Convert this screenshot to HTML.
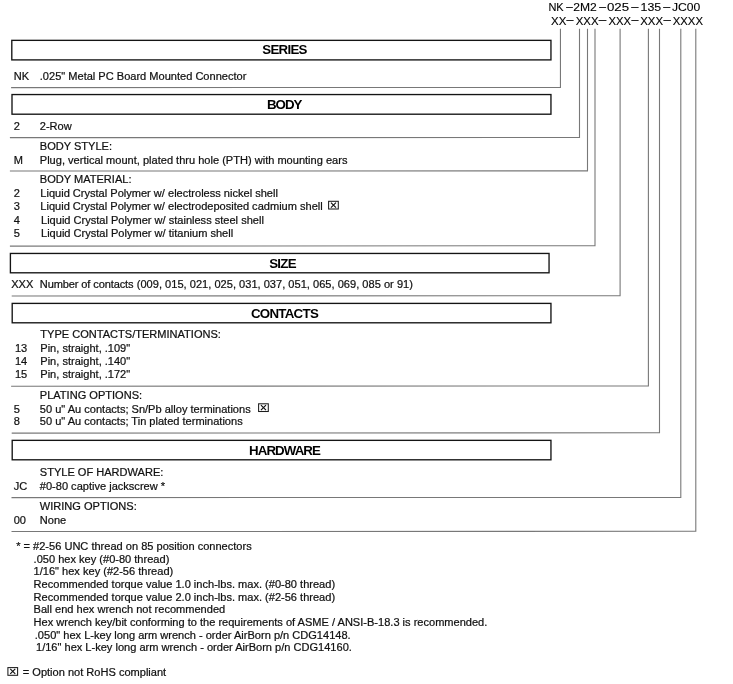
<!DOCTYPE html>
<html lang="en"><head><meta charset="utf-8"><title>NK Part Number Guide</title>
<style>
html,body{margin:0;padding:0;background:#fff}
body{width:733px;height:684px;overflow:hidden}
svg{display:block;will-change:transform}
text{font-family:"Liberation Sans",sans-serif;font-size:11.06px;fill:#111;stroke:#111;stroke-width:.22px}
.h{font-weight:bold;font-size:13.3px;text-anchor:middle;letter-spacing:-0.72px;fill:#000;stroke:none}
.code{fill:#000;stroke:#000;stroke-width:.12px}
.sep{fill:none;stroke:#787878;stroke-width:1.1;stroke-linejoin:miter}
.box{fill:#fff;stroke:#141414;stroke-width:1.35}
.ic rect{fill:#fff;stroke:#1c1c1c;stroke-width:1.05}
.ic path{fill:none;stroke:#111;stroke-width:1.15}
</style></head><body>
<svg width="733" height="684" viewBox="0 0 733 684">
<rect width="733" height="684" fill="#fff"/>
<path d="M11.1 87.6L560.45 87.5V28.8" class="sep"/>
<path d="M9.9 137.65L579.5 137.5V28.8" class="sep"/>
<path d="M9.9 171.0L587.5 170.9V28.8" class="sep"/>
<path d="M9.9 246.15L595.0 245.65V28.8" class="sep"/>
<path d="M11.7 296.05L620.1 295.7V28.8" class="sep"/>
<path d="M11.1 386.3L648.4 385.9V28.8" class="sep"/>
<path d="M11.7 433.1L659.5 432.8V28.8" class="sep"/>
<path d="M11.5 497.6L680.8 497.5V28.8" class="sep"/>
<path d="M11.5 531.55L695.8 531.3V28.8" class="sep"/>
<rect x="11.8" y="40.35" width="539.15" height="19.55" class="box"/>
<text x="284.5" y="54.3" class="h" style="letter-spacing:-0.72px">SERIES</text>
<rect x="12.0" y="94.55" width="538.95" height="19.65" class="box"/>
<text x="284.2" y="108.9" class="h" style="letter-spacing:-0.95px">BODY</text>
<rect x="10.4" y="253.45" width="538.65" height="19.35" class="box"/>
<text x="282.5" y="267.6" class="h" style="letter-spacing:-0.72px">SIZE</text>
<rect x="12.2" y="303.4" width="538.75" height="19.40" class="box"/>
<text x="284.5" y="317.6" class="h" style="letter-spacing:-0.72px">CONTACTS</text>
<rect x="12.2" y="440.35" width="538.75" height="19.45" class="box"/>
<text x="284.5" y="454.6" class="h" style="letter-spacing:-0.92px">HARDWARE</text>
<g class="ic"><rect x="328.6" y="201.3" width="9.7" height="7.7"/><path d="M330.95 202.65L335.95 207.65M335.95 202.65L330.95 207.65"/></g>
<g class="ic"><rect x="258.6" y="403.8" width="9.7" height="7.7"/><path d="M260.95 405.15L265.95 410.15M265.95 405.15L260.95 410.15"/></g>
<g class="ic"><rect x="7.9" y="667.6" width="9.7" height="7.7"/><path d="M10.25 668.95L15.25 673.95M15.25 668.95L10.25 673.95"/></g>
<text class="code" style="font-size:11.6px"><tspan x="548.4" y="11.2" textLength="15.3" lengthAdjust="spacingAndGlyphs">NK</tspan><tspan x="564.9" y="10.1" textLength="9.0" lengthAdjust="spacingAndGlyphs">-</tspan><tspan x="573.3" y="11.2" textLength="23.5" lengthAdjust="spacingAndGlyphs">2M2</tspan><tspan x="598.0" y="10.1" textLength="9.2" lengthAdjust="spacingAndGlyphs">-</tspan><tspan x="607.0" y="11.2" textLength="22.1" lengthAdjust="spacingAndGlyphs">025</tspan><tspan x="630.1" y="10.1" textLength="9.7" lengthAdjust="spacingAndGlyphs">-</tspan><tspan x="640.6" y="11.2" textLength="20.6" lengthAdjust="spacingAndGlyphs">135</tspan><tspan x="662.1" y="10.1" textLength="9.4" lengthAdjust="spacingAndGlyphs">-</tspan><tspan x="672.0" y="11.2" textLength="28.3" lengthAdjust="spacingAndGlyphs">JC00</tspan></text>
<text class="code" style="font-size:11.8px"><tspan x="551.1" y="24.9" textLength="15.3" lengthAdjust="spacingAndGlyphs">XX</tspan><tspan x="565.3" y="23.2" textLength="9.4" lengthAdjust="spacingAndGlyphs">-</tspan><tspan x="575.7" y="24.9" textLength="22.8" lengthAdjust="spacingAndGlyphs">XXX</tspan><tspan x="597.6" y="23.2" textLength="10.0" lengthAdjust="spacingAndGlyphs">-</tspan><tspan x="608.4" y="24.9" textLength="22.6" lengthAdjust="spacingAndGlyphs">XXX</tspan><tspan x="630.3" y="23.2" textLength="9.4" lengthAdjust="spacingAndGlyphs">-</tspan><tspan x="640.2" y="24.9" textLength="22.9" lengthAdjust="spacingAndGlyphs">XXX</tspan><tspan x="662.3" y="23.2" textLength="9.9" lengthAdjust="spacingAndGlyphs">-</tspan><tspan x="672.7" y="24.9" textLength="30.3" lengthAdjust="spacingAndGlyphs">XXXX</tspan></text>
<text x="13.7" y="79.9">NK</text>
<text x="39.8" y="79.9">.025" Metal PC Board Mounted Connector</text>
<text x="13.7" y="130.2">2</text>
<text x="39.8" y="130.2">2-Row</text>
<text x="39.8" y="150.2">BODY STYLE:</text>
<text x="13.7" y="163.7">M</text>
<text x="39.8" y="163.7">Plug, vertical mount, plated thru hole (PTH) with mounting ears</text>
<text x="39.8" y="183.2">BODY MATERIAL:</text>
<text x="13.7" y="196.9">2</text>
<text x="40.3" y="196.9">Liquid Crystal Polymer w/ electroless nickel shell</text>
<text x="13.7" y="210.1">3</text>
<text x="40.3" y="210.1">Liquid Crystal Polymer w/ electrodeposited cadmium shell</text>
<text x="13.7" y="224.1">4</text>
<text x="41" y="224.1">Liquid Crystal Polymer w/ stainless steel shell</text>
<text x="13.7" y="237.4">5</text>
<text x="41" y="237.4">Liquid Crystal Polymer w/ titanium shell</text>
<text x="11.2" y="288.1">XXX</text>
<text x="39.8" y="288.1"><tspan textLength="93.8">Number of contacts</tspan> <tspan x="136.7" textLength="276.2">(009, 015, 021, 025, 031, 037, 051, 065, 069, 085 or 91)</tspan></text>
<text x="40.3" y="337.9">TYPE CONTACTS/TERMINATIONS:</text>
<text x="14.9" y="351.9">13</text>
<text x="40.3" y="351.9">Pin, straight, .109"</text>
<text x="14.9" y="365.0">14</text>
<text x="40.3" y="365.0">Pin, straight, .140"</text>
<text x="14.9" y="377.9">15</text>
<text x="40.3" y="377.9">Pin, straight, .172"</text>
<text x="39.8" y="399.3">PLATING OPTIONS:</text>
<text x="13.7" y="412.7">5</text>
<text x="39.8" y="412.7">50 u" Au contacts; Sn/Pb alloy terminations</text>
<text x="13.7" y="424.8">8</text>
<text x="39.8" y="424.8">50 u" Au contacts; Tin plated terminations</text>
<text x="39.8" y="475.7">STYLE OF HARDWARE:</text>
<text x="13.7" y="489.9">JC</text>
<text x="39.8" y="489.9">#0-80 captive jackscrew *</text>
<text x="39.8" y="510.2">WIRING OPTIONS:</text>
<text x="13.7" y="523.7">00</text>
<text x="39.8" y="523.7">None</text>
<text x="16.2" y="550.3">* = #2-56 UNC thread on 85 position connectors</text>
<text x="33.6" y="562.7">.050 hex key (#0-80 thread)</text>
<text x="33.6" y="575.2">1/16" hex key (#2-56 thread)</text>
<text x="33.6" y="588.4">Recommended torque value 1.0 inch-lbs. max. (#0-80 thread)</text>
<text x="33.6" y="601.0">Recommended torque value 2.0 inch-lbs. max. (#2-56 thread)</text>
<text x="33.6" y="613.1">Ball end hex wrench not recommended</text>
<text x="33.6" y="626.0">Hex wrench key/bit conforming to the requirements of ASME / ANSI-B-18.3 is recommended.</text>
<text x="34.8" y="638.9">.050" hex L-key long arm wrench - order AirBorn p/n CDG14148.</text>
<text x="36" y="651.3">1/16" hex L-key long arm wrench - order AirBorn p/n CDG14160.</text>
<text x="22.8" y="675.6">= Option not RoHS compliant</text>
</svg>
</body></html>
